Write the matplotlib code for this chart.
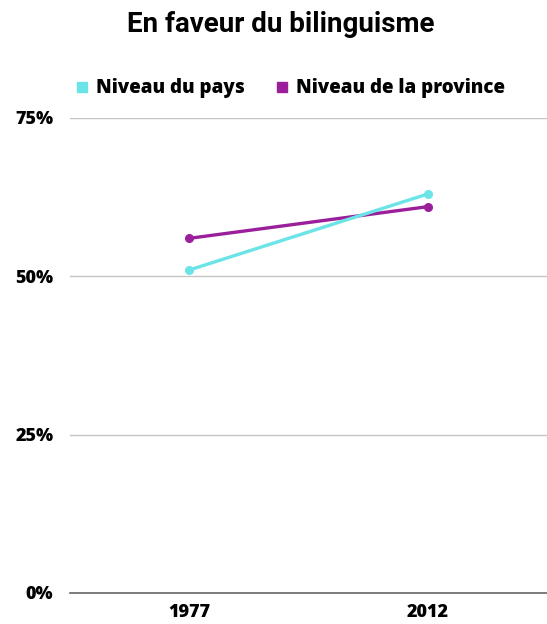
import matplotlib.pyplot as plt
from matplotlib.ticker import FuncFormatter

years = ["1977", "2012"]
pays = [51, 63]
province = [56, 61]
yticks = [0, 25, 50, 75]

c_pays = "#6be4e8"
c_prov = "#9b1f9b"
body = "Open Sans"

fig = plt.figure(figsize=(5.47, 6.24), dpi=100)
ax = fig.add_axes([0.128, 0.0497, 0.872, 0.7612])

x = range(len(years))
ax.plot(x, province, color=c_prov, lw=2.4, marker="o", ms=5.5, solid_capstyle="round", zorder=3)
ax.plot(x, pays, color=c_pays, lw=2.4, marker="o", ms=5.5, solid_capstyle="round", zorder=4)

ax.set_xlim(-0.5, 1.5)
ax.set_ylim(0, 75)
ax.set_yticks(yticks)
ax.yaxis.set_major_formatter(FuncFormatter(lambda v, p: f"{v:.0f}%"))
ax.set_xticks(list(x))
ax.set_xticklabels(years)
ax.grid(axis="y", color="#c4c4c4", lw=1)
ax.set_axisbelow(True)
for s in ["top", "right", "left"]:
    ax.spines[s].set_visible(False)
ax.spines["bottom"].set_color("#666666")
ax.spines["bottom"].set_linewidth(1.2)
ax.tick_params(length=0, labelsize=13)
ax.tick_params(axis="y", pad=12)
ax.tick_params(axis="x", pad=8)
for lab in ax.get_xticklabels() + ax.get_yticklabels():
    lab.set_fontfamily(body)
    lab.set_fontweight(800)

fig.text(0.514, 0.96, "En faveur du bilinguisme", ha="center", va="center",
         fontsize=20, fontweight="bold", family="Roboto")

# legend
fig.patches.append(plt.Rectangle((77 / 547, 1 - 92 / 624), 10 / 547, 10 / 624,
                                 color=c_pays, transform=fig.transFigure, figure=fig))
fig.text(96 / 547, 1 - 88 / 624, "Niveau du pays", va="center", fontsize=13.5,
         fontweight=800, family=body)
fig.patches.append(plt.Rectangle((277 / 547, 1 - 92 / 624), 10 / 547, 10 / 624,
                                 color=c_prov, transform=fig.transFigure, figure=fig))
fig.text(296 / 547, 1 - 88 / 624, "Niveau de la province", va="center", fontsize=13.5,
         fontweight=800, family=body)

fig.savefig("out.png", dpi=100)
